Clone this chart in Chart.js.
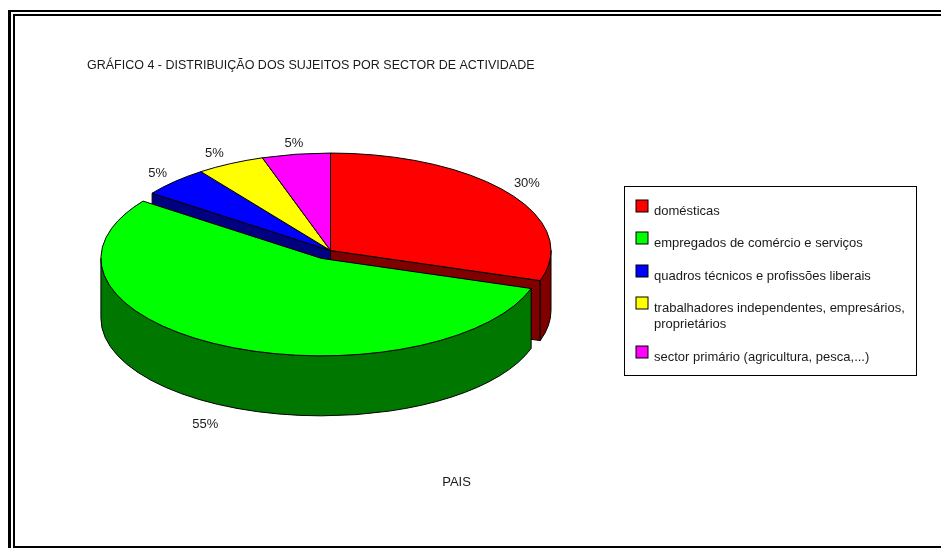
<!DOCTYPE html>
<html>
<head>
<meta charset="utf-8">
<title>Gráfico 4</title>
<script src="https://cdn.jsdelivr.net/npm/chart.js@4"></script>
<style>
  html, body { margin: 0; padding: 0; background: #fff; overflow: hidden; }
  #grafico { display: block; }
</style>
</head>
<body>
<canvas id="grafico" width="941" height="548"></canvas>
<script>
const titleText = 'GRÁFICO 4 - DISTRIBUIÇÃO DOS SUJEITOS POR SECTOR DE ACTIVIDADE'
const xLabel = 'PAIS'
const categories = [
  'domésticas',
  'empregados de comércio e serviços',
  'quadros técnicos e profissões liberais',
  ['trabalhadores independentes, empresários,', 'proprietários'],
  'sector primário (agricultura, pesca,...)'
]
const percentages = [30, 55, 5, 5, 5]

const sliceColors = ['#ff0000', '#00ff00', '#0000ff', '#ffff00', '#ff00ff']
const sideColors = ['#800000', '#007800', '#000080', '#808000', '#800080']

const FONT = '"Liberation Sans", Arial, sans-serif'
const SQUASH = 0.442   // pie is drawn as an ellipse
const DEPTH = 60
const explode = [0, 20, 0, 0, 0]
// where each % label sits, relative to the rim at the middle of its slice
const labelNudge = [[18, -11], [-16, 18], [-17, -10], [-16, -12], [-2, -12]]

function sliceShift(arc, i) {
  const mid = (arc.startAngle + arc.endAngle) / 2
  return { x: Math.cos(mid) * explode[i], y: Math.sin(mid) * explode[i] * SQUASH }
}

function rim(arc, shift, angle) {
  return {
    x: arc.x + shift.x + Math.cos(angle) * arc.outerRadius,
    y: arc.y + shift.y + Math.sin(angle) * arc.outerRadius * SQUASH
  }
}

// dark cut face left open next to the pulled-out slice
function drawCutFace(ctx, arc, shift, angle, color) {
  const p = rim(arc, shift, angle)
  const ax = arc.x + shift.x, ay = arc.y + shift.y
  ctx.beginPath()
  ctx.moveTo(ax, ay)
  ctx.lineTo(p.x, p.y)
  ctx.lineTo(p.x, p.y + DEPTH)
  ctx.lineTo(ax, ay + DEPTH)
  ctx.closePath()
  ctx.fillStyle = color
  ctx.fill()
  ctx.stroke()
}

// front wall: only the part of the rim facing down
function drawWall(ctx, arc, shift, color) {
  const from = Math.max(arc.startAngle, 0)
  const to = Math.min(arc.endAngle, Math.PI)
  if (to <= from) return
  const rx = arc.outerRadius, ry = arc.outerRadius * SQUASH
  const cx = arc.x + shift.x, cy = arc.y + shift.y
  ctx.beginPath()
  ctx.ellipse(cx, cy, rx, ry, 0, from, to)
  ctx.ellipse(cx, cy + DEPTH, rx, ry, 0, to, from, true)
  ctx.closePath()
  ctx.fillStyle = color
  ctx.fill()
  ctx.stroke()
}

const piePlugin = {
  id: 'pie3d',
  beforeDatasetsDraw(chart) {
    const ctx = chart.ctx
    const arcs = chart.getDatasetMeta(0).data
    const n = arcs.length
    ctx.save()
    ctx.strokeStyle = '#000'
    ctx.lineWidth = 1
    ctx.lineJoin = 'round'

    arcs.forEach((arc, i) => {
      if (explode[i]) return
      const shift = sliceShift(arc, i)
      if (explode[(i + 1) % n]) drawCutFace(ctx, arc, shift, arc.endAngle, sideColors[i])
      if (explode[(i + n - 1) % n]) drawCutFace(ctx, arc, shift, arc.startAngle, sideColors[i])
      drawWall(ctx, arc, shift, sideColors[i])
    })
    arcs.forEach((arc, i) => {
      if (explode[i]) drawWall(ctx, arc, sliceShift(arc, i), sideColors[i])
    })

    // top faces: the library's own arcs, flattened. Pulled-out slice goes last
    const order = arcs.map((a, i) => i).sort((a, b) => explode[a] - explode[b])
    order.forEach(i => {
      const arc = arcs[i]
      const shift = sliceShift(arc, i)
      ctx.save()
      ctx.translate(shift.x, arc.y + shift.y)
      ctx.scale(1, SQUASH)
      ctx.translate(0, -arc.y)
      arc.draw(ctx)
      ctx.restore()

      ctx.beginPath()
      ctx.moveTo(arc.x + shift.x, arc.y + shift.y)
      ctx.ellipse(arc.x + shift.x, arc.y + shift.y, arc.outerRadius, arc.outerRadius * SQUASH, 0, arc.startAngle, arc.endAngle)
      ctx.closePath()
      ctx.stroke()
    })
    ctx.restore()
    return false
  },
  afterDraw(chart) {
    const ctx = chart.ctx
    ctx.save()
    ctx.fillStyle = '#000'
    ctx.textBaseline = 'alphabetic'

    // outer frame (the right side is cut off in the source)
    ctx.fillRect(8, 10, 933, 2)
    ctx.fillRect(13, 14, 928, 2)
    ctx.fillRect(8, 10, 3, 538)
    ctx.fillRect(13, 14, 2, 534)
    ctx.fillRect(13, 546, 928, 2)

    ctx.fillStyle = '#1a1a1a'
    ctx.font = '12.5px ' + FONT
    ctx.textAlign = 'left'
    ctx.fillText(titleText, 87, 69)
    ctx.font = '13px ' + FONT
    ctx.textAlign = 'center'
    ctx.fillText(xLabel, 456.5, 485.5)

    // % labels
    chart.getDatasetMeta(0).data.forEach((arc, i) => {
      const mid = (arc.startAngle + arc.endAngle) / 2
      const p = rim(arc, sliceShift(arc, i), mid)
      const y = p.y + (Math.sin(mid) > 0 ? DEPTH : 0)
      ctx.fillText(percentages[i] + '%', p.x + labelNudge[i][0], y + labelNudge[i][1] + 5)
    })

    // legend box
    ctx.strokeStyle = '#000'
    ctx.lineWidth = 1
    ctx.strokeRect(624.5, 186.5, 292, 189)
    const swatchY = [200, 232, 265, 297, 346]
    categories.forEach((cat, i) => {
      ctx.fillStyle = sliceColors[i]
      ctx.fillRect(636, swatchY[i], 12, 12)
      ctx.strokeStyle = '#000'
      ctx.strokeRect(636, swatchY[i], 12, 12)
      ctx.fillStyle = '#1a1a1a'
      ctx.textAlign = 'left'
      const lines = Array.isArray(cat) ? cat : [cat]
      lines.forEach((line, j) => ctx.fillText(line, 654, swatchY[i] + 14.5 + j * 16.5))
    })
    ctx.restore()
  }
}

new Chart(document.getElementById('grafico'), {
  type: 'pie',
  data: {
    labels: categories.map(c => Array.isArray(c) ? c.join(' ') : c),
    datasets: [{
      data: percentages,
      backgroundColor: sliceColors,
      borderWidth: 0
    }]
  },
  options: {
    responsive: false,
    animation: false,
    events: [],
    layout: { padding: { left: 110, right: 390, top: 30, bottom: 77 } },
    plugins: {
      legend: { display: false },
      title: { display: false },
      tooltip: { enabled: false }
    }
  },
  plugins: [piePlugin]
})
</script>
</body>
</html>
